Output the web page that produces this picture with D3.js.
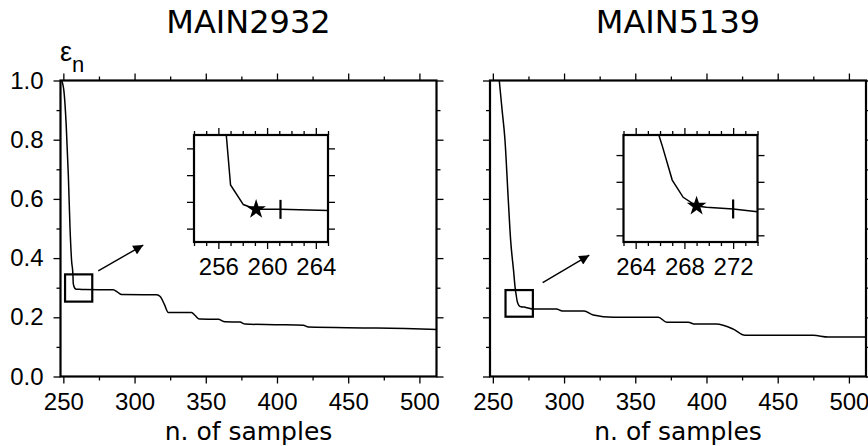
<!DOCTYPE html>
<meta charset="utf-8">
<style>
body { margin: 0; background: #fff; }
svg { display: block; }
.axis path { display: none; }
.axis line { stroke: #000; stroke-width: 1.3; }
.axis text { font-family: "Liberation Sans", Arial, sans-serif; font-size: 24px; fill: #000; }
.frame { fill: none; stroke: #000; stroke-width: 2.2; }
.line { fill: none; stroke: #000; stroke-width: 1.5; }
.title { font-family: "DejaVu Sans", sans-serif; font-size: 32px; text-anchor: middle; }
.xlabel { font-family: "DejaVu Sans", sans-serif; font-size: 25px; text-anchor: middle; }
</style>
<body>
<svg width="868" height="446"></svg>

<script src="https://cdn.jsdelivr.net/npm/d3@7/dist/d3.min.js"></script>
<script>

// values: [n. of samples, eps_n]
var titles = ["MAIN2932", "MAIN5139"];

var curve2932 = [[248.8, 1.0], [250.5, 0.96], [252, 0.85], [253.5, 0.68], [254.7, 0.50],
  [255.8, 0.39], [256.65, 0.35], [257, 0.3126], [258.05, 0.298], [259.1, 0.2944],
  [261.1, 0.2944], [265, 0.2935], [285, 0.293], [288, 0.285], [291, 0.277],
  [315.5, 0.276], [318, 0.270], [321, 0.243], [323.7, 0.216], [340, 0.216],
  [342.5, 0.206], [345.5, 0.194], [358.8, 0.193], [363.5, 0.185], [374, 0.184],
  [377.6, 0.177], [400, 0.175], [418.5, 0.173], [422, 0.167], [463, 0.164],
  [490, 0.162], [512, 0.159]];

var curve5139 = [[254.5, 1.0], [256.5, 0.90], [258.5, 0.80], [260.8, 0.60], [262.5, 0.46],
  [264.5, 0.36], [265.9, 0.29], [266.2, 0.2813], [267.0, 0.2563], [267.9, 0.2434],
  [269.0, 0.2369], [269.8, 0.2359], [272, 0.2347], [274, 0.2326], [278.4, 0.228],
  [294.8, 0.228], [297, 0.224], [299.5, 0.221], [314, 0.221], [320.5, 0.208],
  [334.6, 0.200], [366.2, 0.200], [372.1, 0.183], [387.2, 0.183], [391.9, 0.177],
  [406.7, 0.177], [418.8, 0.160], [427, 0.139], [475, 0.139], [485.5, 0.1334],
  [512, 0.1334]];

// star = chosen point, bar = stopping point
var best2932 = [259.1, 0.2944];
var best5139 = [269.0, 0.2369];
var stop2932 = [261.1, 0.2944];
var stop5139 = [272.0, 0.2347];

var zoomBox2932 = [[251.2, 270.3], [0.253, 0.345]];
var zoomBox5139 = [[258.9, 278.1], [0.202, 0.292]];
var arrow2932 = [[274.5, 0.357], [306.1, 0.444]];
var arrow5139 = [[285.0, 0.317], [317.7, 0.410]];

var xDomain = [248, 512];
var yDomain = [0, 1];
var xMajor = [250, 300, 350, 400, 450, 500];
var xMinor = [275, 325, 375, 425, 475];
var yMajor = [0, 0.2, 0.4, 0.6, 0.8, 1.0];
var yMinor = [0.1, 0.3, 0.5, 0.7, 0.9];

var insetX2932 = [254, 265];
var insetXMajor2932 = [256, 260, 264];
var insetY2932 = [0.27, 0.35];
var insetYTicks2932 = [0.28, 0.30, 0.32, 0.34];

var insetX5139 = [263, 274];
var insetXMajor5139 = [264, 268, 272];
var insetY5139 = [0.21, 0.29];
var insetYTicks5139 = [0.215, 0.235, 0.255, 0.275];

var svg = d3.select("svg");

var W = 376, H = 296;
var IW = 134, IH = 107;

svg.append("defs").append("marker")
    .attr("id", "head")
    .attr("viewBox", "0 0 10 10")
    .attr("refX", 10).attr("refY", 5)
    .attr("markerWidth", 11).attr("markerHeight", 10)
    .attr("markerUnits", "userSpaceOnUse")
    .attr("orient", "auto")
  .append("path")
    .attr("d", "M0,0L10,5L0,10Z");

function addAxis(g, axis, tr) {
    return g.append("g").attr("class", "axis")
	.attr("transform", tr || null)
	.call(axis);
}

// four-sided frame with outward major/minor ticks
function drawFrame(g, x, y, w, h, xMaj, xMin, yMaj, yMin, yLabels, fmtX, fmtY) {
    var blank = function() { return ""; };
    addAxis(g, d3.axisBottom(x).tickValues(xMaj).tickSize(7).tickPadding(9).tickFormat(fmtX), "translate(0," + h + ")");
    addAxis(g, d3.axisBottom(x).tickValues(xMin).tickSize(4).tickFormat(blank), "translate(0," + h + ")");
    addAxis(g, d3.axisTop(x).tickValues(xMaj).tickSize(7).tickFormat(blank));
    addAxis(g, d3.axisTop(x).tickValues(xMin).tickSize(4).tickFormat(blank));
    addAxis(g, d3.axisLeft(y).tickValues(yMaj).tickSize(7).tickPadding(10).tickFormat(yLabels ? fmtY : blank));
    addAxis(g, d3.axisLeft(y).tickValues(yMin).tickSize(4).tickFormat(blank));
    addAxis(g, d3.axisRight(y).tickValues(yMaj).tickSize(7).tickFormat(blank), "translate(" + w + ",0)");
    addAxis(g, d3.axisRight(y).tickValues(yMin).tickSize(4).tickFormat(blank), "translate(" + w + ",0)");
    g.append("rect").attr("class", "frame").attr("width", w).attr("height", h);
}

function panel(i, left, curve, best, stop, box, arrow, ix, ixMaj, iy, iyTicks) {

    var g = svg.append("g").attr("transform", "translate(" + left + ",80.5)");
    var x = d3.scaleLinear().domain(xDomain).range([0, W]);
    var y = d3.scaleLinear().domain(yDomain).range([H, 0]);

    var clipId = "clip" + i;
    svg.select("defs").append("clipPath").attr("id", clipId)
	.append("rect").attr("width", W).attr("height", H);

    svg.append("text").attr("class", "title")
	.attr("x", left + W / 2).attr("y", 33)
	.text(titles[i]);

    svg.append("text").attr("class", "xlabel")
	.attr("x", left + W / 2).attr("y", 440)
	.text("n. of samples");

    var line = d3.line().curve(d3.curveMonotoneX)
	.x(function(d) { return x(d[0]); })
	.y(function(d) { return y(d[1]); });

    g.append("path").datum(curve)
	.attr("class", "line")
	.attr("clip-path", "url(#" + clipId + ")")
	.attr("d", line);

    drawFrame(g, x, y, W, H, xMajor, xMinor, yMajor, yMinor, i == 0,
	      d3.format("d"), d3.format(".1f"));

    // zoom box and arrow
    g.append("rect").attr("class", "frame")
	.attr("x", x(box[0][0])).attr("y", y(box[1][1]))
	.attr("width", x(box[0][1]) - x(box[0][0]))
	.attr("height", y(box[1][0]) - y(box[1][1]));

    g.append("line")
	.attr("x1", x(arrow[0][0])).attr("y1", y(arrow[0][1]))
	.attr("x2", x(arrow[1][0])).attr("y2", y(arrow[1][1]))
	.attr("stroke", "#000").attr("stroke-width", 1.4)
	.attr("marker-end", "url(#head)");

    // inset
    var ig = g.append("g").attr("transform", "translate(133.5,54.5)");
    var xi = d3.scaleLinear().domain(ix).range([0, IW]);
    var yi = d3.scaleLinear().domain(iy).range([IH, 0]);
    var ixMin = d3.range(ix[0], ix[1] + 1).filter(function(v) { return ixMaj.indexOf(v) < 0; });

    var iclip = "iclip" + i;
    svg.select("defs").append("clipPath").attr("id", iclip)
	.append("rect").attr("width", IW).attr("height", IH);

    ig.append("rect").attr("width", IW).attr("height", IH).attr("fill", "#fff");

    var iline = d3.line()
	.x(function(d) { return xi(d[0]); })
	.y(function(d) { return yi(d[1]); });

    ig.append("path").datum(curve)
	.attr("class", "line")
	.attr("clip-path", "url(#" + iclip + ")")
	.attr("d", iline);

    ig.append("line")
	.attr("x1", xi(stop[0])).attr("x2", xi(stop[0]))
	.attr("y1", yi(stop[1]) - 9.5).attr("y2", yi(stop[1]) + 9.5)
	.attr("stroke", "#000").attr("stroke-width", 2.2);

    ig.append("path")
	.attr("d", d3.symbol(d3.symbolStar, 120)())
	.attr("transform", "translate(" + xi(best[0]) + "," + yi(best[1]) + ")")
	.attr("fill", "#000");

    drawFrame(ig, xi, yi, IW, IH, ixMaj, ixMin, iyTicks, [], false, d3.format("d"));
}

panel(0, 60.5, curve2932, best2932, stop2932, zoomBox2932, arrow2932,
      insetX2932, insetXMajor2932, insetY2932, insetYTicks2932);
panel(1, 490, curve5139, best5139, stop5139, zoomBox5139, arrow5139,
      insetX5139, insetXMajor5139, insetY5139, insetYTicks5139);

// eps_n label over the left axis
var eps = svg.append("text")
    .attr("x", 60).attr("y", 61)
    .attr("font-family", "Liberation Sans, sans-serif")
    .attr("font-size", 27);
eps.append("tspan").text("ε");
eps.append("tspan").attr("y", 72).attr("font-size", 22).text("n");

</script>
</body>
